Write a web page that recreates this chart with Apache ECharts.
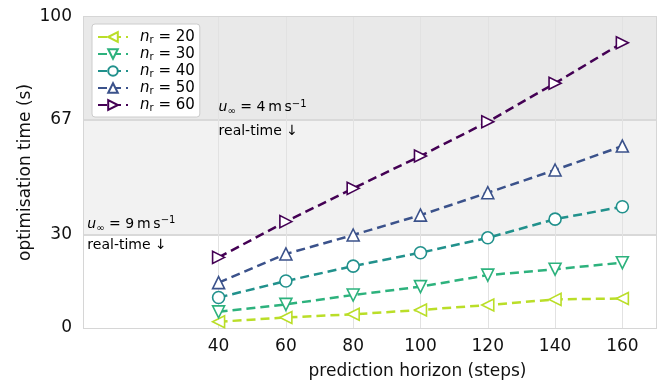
<!DOCTYPE html>
<html><head><meta charset="utf-8">
<script src="https://cdn.jsdelivr.net/npm/echarts@6/dist/echarts.min.js"></script>
<style>html,body{margin:0;padding:0;background:#fff}#c{width:659px;height:382px}</style>
</head><body><div id="c"></div>
<script>
const horizons = [40, 60, 80, 100, 120, 140, 160];
const nr20 = [2.0, 3.4, 4.4, 5.8, 7.4, 9.2, 9.5];
const nr30 = [5.2, 7.6, 10.6, 13.3, 17.0, 18.9, 21.0];
const nr40 = [9.8, 15.1, 19.9, 24.2, 29.0, 35.0, 39.0];
const nr50 = [14.6, 23.8, 29.9, 36.3, 43.5, 50.8, 58.5];
const nr60 = [22.7, 34.2, 44.9, 55.3, 66.3, 78.7, 91.7];
const seriesNames = ['20', '30', '40', '50', '60'];
const yTicks = [0, 30, 67, 100];
const xTicks = [40, 60, 80, 100, 120, 140, 160];
const thresholds = [30, 67];

const font = 'DejaVu Sans';
const colors = ['#bade28', '#2db27d', '#21918c', '#3b528b', '#440154'];
const rotations = [90, 180, 0, 0, -90];
const symbols = ['triangle', 'triangle', 'circle', 'triangle', 'triangle'];
const allData = [nr20, nr30, nr40, nr50, nr60];

const series = allData.map((vals, i) => ({
  name: seriesNames[i],
  type: 'line',
  data: horizons.map((h, j) => [h, vals[j]]),
  symbol: symbols[i],
  symbolRotate: rotations[i],
  symbolSize: 12,
  showAllSymbol: true,
  itemStyle: { color: '#fff', borderColor: colors[i], borderWidth: 1.6 },
  lineStyle: { color: colors[i], width: 2.5, type: [9, 5] },
  emphasis: { disabled: true },
  z: 5 + i
}));

const rich = {
  i: { fontFamily: font, fontStyle: 'italic', fontSize: 14, color: '#000' },
  sub: { fontFamily: font, fontSize: 10, color: '#000', padding: [8, 0, 0, 0] },
  sup: { fontFamily: font, fontSize: 10, color: '#000', padding: [0, 0, 7, 0] },
  n: { fontFamily: font, fontSize: 14, color: '#000' }
};

series.push({
  name: 'bg',
  type: 'line',
  data: [],
  silent: true,
  z: 1,
  markArea: {
    silent: true,
    data: [
      [{ yAxis: 0, itemStyle: { color: '#ffffff' } }, { yAxis: thresholds[0] }],
      [{ yAxis: thresholds[0], itemStyle: { color: '#f2f2f2' } }, { yAxis: thresholds[1] }],
      [{ yAxis: thresholds[1], itemStyle: { color: '#e9e9e9' } }, { yAxis: 100 }]
    ]
  },
  markLine: {
    silent: true,
    symbol: 'none',
    label: { show: false },
    data: thresholds.map(t => ({ yAxis: t, lineStyle: { color: '#d9d9d9', width: 2, type: 'solid' } }))
      .concat(xTicks.map(t => ({ xAxis: t, lineStyle: { color: '#e2e2e2', width: 1, type: 'solid' } })))
  },
  markPoint: {
    silent: true,
    symbol: 'circle',
    symbolSize: 0,
    data: [
      { coord: [40, 70.8], label: { formatter: '{i|u}{sub|∞}{n| = 4\u2009m\u2009s}{sup|−1}' } },
      { coord: [40, 63.2], label: { formatter: '{n|real-time ↓}' } },
      { coord: [1, 33.4], label: { formatter: '{i|u}{sub|∞}{n| = 9\u2009m\u2009s}{sup|−1}' } },
      { coord: [1, 26.6], label: { formatter: '{n|real-time ↓}' } }
    ],
    label: { show: true, position: 'right', distance: 0, rich: rich }
  }
});

const chart = echarts.init(document.getElementById('c'));
chart.setOption({
  animation: false,
  backgroundColor: '#fff',
  grid: { left: 84, right: 3, top: 17, bottom: 54, outerBoundsMode: 'none', containLabel: false, show: true, borderColor: '#d6d6d6', borderWidth: 2, backgroundColor: 'transparent', z: 0 },
  legend: {
    data: seriesNames,
    orient: 'vertical',
    left: 92, top: 24,
    padding: [5, 5, 4, 5],
    backgroundColor: '#fff',
    borderColor: '#cccccc',
    borderWidth: 1,
    borderRadius: 3,
    itemWidth: 30,
    itemHeight: 12,
    itemGap: 1,
    formatter: name => '{sp|}{i|n}{sub|r}{n| = ' + name + '}',
    textStyle: {
      lineHeight: 12,
      rich: {
        sp: { width: 7, lineHeight: 12 },
        i: { fontFamily: font, fontStyle: 'italic', fontSize: 15, color: '#000', lineHeight: 12 },
        sub: { fontFamily: font, fontSize: 10, color: '#000', lineHeight: 12, padding: [6, 0, 0, 0] },
        n: { fontFamily: font, fontSize: 15, color: '#000', lineHeight: 12 }
      }
    }
  },
  xAxis: {
    type: 'value', min: 0, max: 170,
    name: 'prediction horizon (steps)', nameLocation: 'middle', nameGap: 35,
    nameMoveOverlap: false,
    nameTextStyle: { fontFamily: font, fontSize: 17, color: '#111', padding: [0, 0, 0, 95] },
    axisLine: { show: false },
    axisTick: { show: false, customValues: xTicks },
    axisLabel: { customValues: xTicks, fontFamily: font, fontSize: 17, color: '#111', margin: 10 },
    splitLine: { show: false }
  },
  yAxis: {
    type: 'value', min: 0, max: 100,
    name: 'optimisation time (s)', nameLocation: 'middle', nameGap: 50,
    nameMoveOverlap: false,
    nameTextStyle: { fontFamily: font, fontSize: 17, color: '#111' },
    axisLine: { show: false },
    axisTick: { show: false, customValues: yTicks },
    axisLabel: { customValues: yTicks, fontFamily: font, fontSize: 17, color: '#111', margin: 12 },
    splitLine: { show: false }
  },
  series: series
});
</script></body></html>
